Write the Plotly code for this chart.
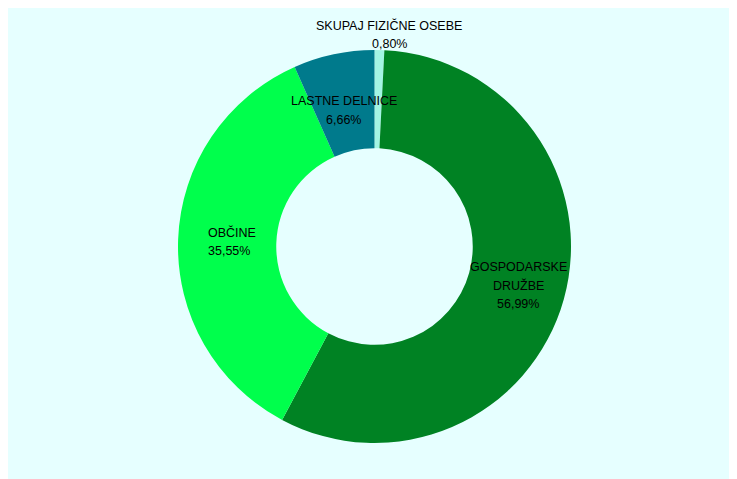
import math
import plotly.graph_objects as go

labels = ["SKUPAJ FIZIČNE OSEBE", "GOSPODARSKE<br>DRUŽBE", "OBČINE", "LASTNE DELNICE"]
values = [0.80, 56.99, 35.55, 6.66]
value_text = ["0,80%", "56,99%", "35,55%", "6,66%"]
colors = ["#a3f5e3", "#008223", "#00ff4c", "#007a8c"]

W, H = 737, 479
OFF = 8  # page body margin
cx_px, cy_px, R_px = 374.5 - OFF, 246.5 - OFF, 196.5
label_r = [221, 147, 147, 148]
label_xshift = [9, 2, 0, 0]
label_align = ["center", "center", "left", "center"]
line_gap = 18.5

fig = go.Figure(go.Pie(
    labels=labels, values=values, sort=False, direction="clockwise", rotation=0,
    hole=0.5, textinfo="none", marker=dict(colors=colors, line=dict(width=0)),
    showlegend=False,
    domain=dict(x=[(cx_px - R_px) / W, (cx_px + R_px) / W],
                y=[1 - (cy_px + R_px) / H, 1 - (cy_px - R_px) / H]),
))

total = sum(values)
cum = 0.0
for i, v in enumerate(values):
    mid = (cum + v / 2) / total * 2 * math.pi
    cum += v
    x_px = cx_px + label_r[i] * math.sin(mid)
    y_px = cy_px - label_r[i] * math.cos(mid)
    lines = labels[i].split("<br>") + [value_text[i]]
    n = len(lines)
    for j, ln in enumerate(lines):
        fig.add_annotation(
            x=x_px / W, y=1 - y_px / H, xref="paper", yref="paper",
            text=ln, showarrow=False, xanchor="left" if label_align[i] == "left" else "center",
            xshift=label_xshift[i] - (22 if label_align[i] == "left" else 0),
            yshift=((n - 1) / 2 - j) * line_gap,
            font=dict(family="Liberation Sans, Arial, sans-serif", size=12.5, color="#000000"),
        )

fig.update_layout(width=W, height=H, margin=dict(l=0, r=0, t=0, b=0),
                  paper_bgcolor="#e6ffff", plot_bgcolor="#e6ffff")
fig.write_html("out.html")
